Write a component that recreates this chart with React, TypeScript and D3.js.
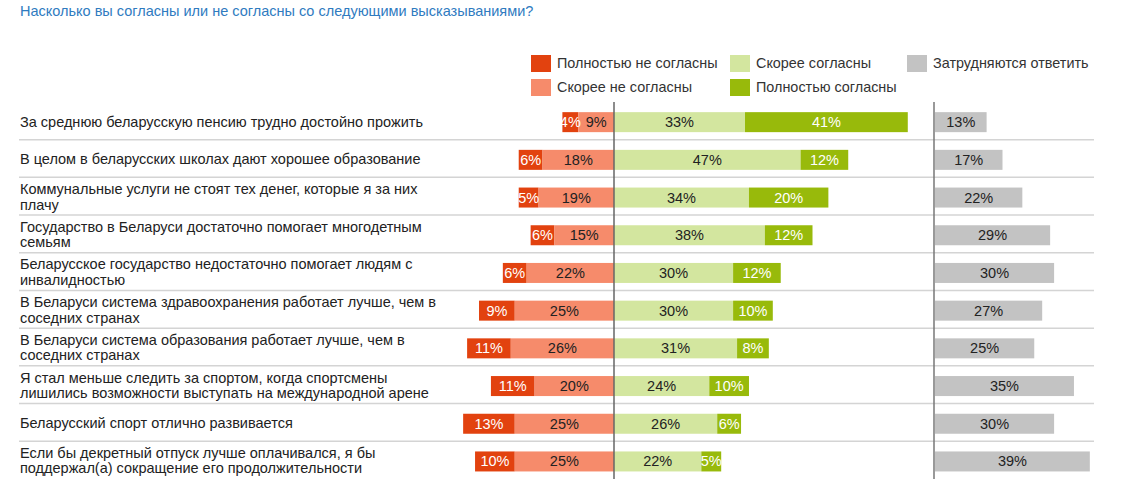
import React from "react";
import * as d3 from "d3";

const statements: string[][] = [
  ["За среднюю беларусскую пенсию трудно достойно прожить"],
  ["В целом в беларусских школах дают хорошее образование"],
  ["Коммунальные услуги не стоят тех денег, которые я за них", "плачу"],
  ["Государство в Беларуси достаточно помогает многодетным", "семьям"],
  ["Беларусское государство недостаточно помогает людям с", "инвалидностью"],
  ["В Беларуси система здравоохранения работает лучше, чем в", "соседних странах"],
  ["В Беларуси система образования работает лучше, чем в", "соседних странах"],
  ["Я стал меньше следить за спортом, когда спортсмены", "лишились возможности выступать на международной арене"],
  ["Беларусский спорт отлично развивается"],
  ["Если бы декретный отпуск лучше оплачивался, я бы", "поддержал(а) сокращение его продолжительности"],
];

const strongDisagree = [4, 6, 5, 6, 6, 9, 11, 11, 13, 10];
const disagree = [9, 18, 19, 15, 22, 25, 26, 20, 25, 25];
const agree = [33, 47, 34, 38, 30, 30, 31, 24, 26, 22];
const strongAgree = [41, 12, 20, 12, 12, 10, 8, 10, 6, 5];
const dontKnow = [13, 17, 22, 29, 30, 27, 25, 35, 30, 39];

const legendNames = [
  "Полностью не согласны",
  "Скорее не согласны",
  "Скорее согласны",
  "Полностью согласны",
  "Затрудняются ответить",
];
const colors = ["#E2420F", "#F68B6B", "#D3E69F", "#98BA0B", "#C3C3C3"];
const textColors = ["#ffffff", "#222222", "#222222", "#ffffff", "#222222"];

const title = "Насколько вы согласны или не согласны со следующими высказываниями?";

const W = 1123;
const H = 492;
const FONT = "'Liberation Sans', Arial, sans-serif";

export default function App() {
  const center = 614;
  const dkStart = 935;
  const len = d3.scaleLinear().domain([0, 100]).range([0, 397]);
  const y = d3
    .scaleBand<number>()
    .domain(d3.range(statements.length))
    .range([103.3, 480.3])
    .paddingInner(0)
    .paddingOuter(0);
  const bw = y.bandwidth();
  const barH = 20;

  const segs: any[] = [];
  statements.forEach((_, i) => {
    const cy = (y(i) as number) + bw / 2;
    const d1 = disagree[i];
    const d0 = strongDisagree[i];
    const a1 = agree[i];
    const a2 = strongAgree[i];
    const parts = [
      { k: 0, v: d0, x0: center - len(d1 + d0), x1: center - len(d1) },
      { k: 1, v: d1, x0: center - len(d1), x1: center },
      { k: 2, v: a1, x0: center, x1: center + len(a1) },
      { k: 3, v: a2, x0: center + len(a1), x1: center + len(a1 + a2) },
      { k: 4, v: dontKnow[i], x0: dkStart, x1: dkStart + len(dontKnow[i]) },
    ];
    parts.forEach((p) => segs.push({ ...p, i, cy }));
  });

  const legendItems = [
    { k: 0, x: 531, y: 55 },
    { k: 1, x: 531, y: 79 },
    { k: 2, x: 730, y: 55 },
    { k: 3, x: 730, y: 79 },
    { k: 4, x: 907, y: 55 },
  ];

  return (
    <svg
      width={W}
      height={H}
      style={{ position: "absolute", left: 0, top: 0, background: "#fff" }}
      fontFamily={FONT}
    >
      <rect width={W} height={H} fill="#fff" />
      <text x={20} y={15.5} fontSize={14.5} fill="#2F7BBF">
        {title}
      </text>

      {legendItems.map((l) => (
        <g key={l.k}>
          <rect x={l.x} y={l.y} width={20} height={17} fill={colors[l.k]} />
          <text x={l.x + 26} y={l.y + 13} fontSize={14.4} fill="#333">
            {legendNames[l.k]}
          </text>
        </g>
      ))}

      {statements.map((_, i) => {
        if (i === statements.length - 1) return null;
        const cy = (y(i) as number) + bw / 2;
        return (
          <line
            key={"sep" + i}
            x1={19}
            x2={1094}
            y1={cy + 17.5}
            y2={cy + 17.5}
            stroke="#D4D4D4"
            strokeWidth={1.5}
          />
        );
      })}

      {statements.map((lines, i) => {
        const cy = (y(i) as number) + bw / 2;
        if (lines.length === 1) {
          return (
            <text key={"lab" + i} x={20} y={cy + 4.5} fontSize={14.5} fill="#222">
              {lines[0]}
            </text>
          );
        }
        return (
          <text key={"lab" + i} x={20} y={cy - 3.5} fontSize={14.5} fill="#222">
            <tspan x={20} dy={0}>{lines[0]}</tspan>
            <tspan x={20} dy={15.5}>{lines[1]}</tspan>
          </text>
        );
      })}

      {segs.map((s, j) => (
        <rect
          key={"r" + j}
          x={s.x0}
          y={s.cy - barH / 2}
          width={Math.max(0, s.x1 - s.x0)}
          height={barH}
          fill={colors[s.k]}
        />
      ))}

      <line x1={center} x2={center} y1={102} y2={479} stroke="#666" strokeWidth={1.5} />
      <line x1={dkStart - 1} x2={dkStart - 1} y1={102} y2={479} stroke="#777" strokeWidth={1.5} />

      {segs.map((s, j) => (
        <text
          key={"t" + j}
          x={(s.x0 + s.x1) / 2}
          y={s.cy + 5}
          textAnchor="middle"
          fontSize={14.5}
          fill={textColors[s.k]}
        >
          {s.v + "%"}
        </text>
      ))}
    </svg>
  );
}
